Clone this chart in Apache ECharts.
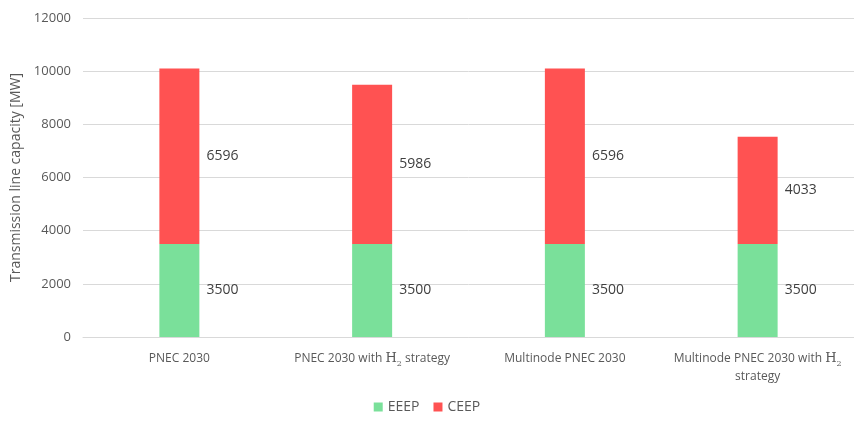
<!DOCTYPE html>
<html>
<head>
<meta charset="utf-8">
<script src="https://cdn.jsdelivr.net/npm/echarts@6/dist/echarts.min.js"></script>
<style>
  html, body { margin: 0; padding: 0; background: #fff; }
  #chart { width: 854px; height: 421px; }
</style>
</head>
<body>
<div id="chart"></div>
<script>
// Scenario names; "{h|H}{s|2}" renders H₂ in a serif face with a subscript
const categories = [
  'PNEC 2030',
  'PNEC 2030 with {h|H}{s|2} strategy',
  'Multinode PNEC 2030',
  'Multinode PNEC 2030 with {h|H}{s|2}\nstrategy'
];
const eeep = [3500, 3500, 3500, 3500];
const ceep = [6596, 5986, 6596, 4033];
const yTicks = [0, 2000, 4000, 6000, 8000, 10000, 12000];

const FONT = '"Liberation Sans Narrow", "Open Sans", sans-serif';
const TEXT = '#595959';

const chart = echarts.init(document.getElementById('chart'), null, { renderer: 'canvas' });

const labelStyle = {
  show: true,
  position: 'right',
  distance: 7,
  color: '#404040',
  fontSize: 14,
  fontFamily: FONT
};

chart.setOption({
  animation: false,
  textStyle: { fontFamily: FONT, color: TEXT },
  grid: { left: 83, right: 0, top: 18, bottom: 84, containLabel: false },
  legend: {
    bottom: 2,
    left: 'center',
    itemWidth: 9,
    itemHeight: 9,
    itemGap: 14,
    icon: 'rect',
    textStyle: { color: TEXT, fontSize: 14, fontFamily: FONT },
    data: ['EEEP', 'CEEP']
  },
  xAxis: {
    type: 'category',
    data: categories,
    axisTick: { show: false },
    axisLine: { lineStyle: { color: '#d9d9d9' } },
    axisLabel: {
      color: TEXT,
      fontSize: 12,
      fontFamily: FONT,
      margin: 13,
      lineHeight: 18,
      interval: 0,
      rich: {
        h: { fontFamily: '"DejaVu Serif", serif', fontSize: 13, color: TEXT },
        s: { fontFamily: '"DejaVu Serif", serif', fontSize: 8, color: TEXT, verticalAlign: 'bottom', padding: [9, 0, 0, 0] }
      }
    }
  },
  yAxis: {
    type: 'value',
    min: yTicks[0],
    max: yTicks[yTicks.length - 1],
    interval: 2000,
    name: 'Transmission line capacity [MW]',
    nameLocation: 'middle',
    nameGap: 55,
    nameTextStyle: { color: TEXT, fontSize: 14, fontFamily: FONT },
    axisLabel: {
      color: TEXT, fontSize: 13, fontFamily: FONT, margin: 12,
      formatter: v => String(v)
    },
    axisLine: { show: false },
    axisTick: { show: false },
    splitLine: { lineStyle: { color: '#d9d9d9' } }
  },
  series: [
    {
      name: 'EEEP',
      type: 'bar',
      stack: 'total',
      barWidth: 40,
      data: eeep,
      itemStyle: { color: '#7ae09a' },
      label: labelStyle
    },
    {
      name: 'CEEP',
      type: 'bar',
      stack: 'total',
      barWidth: 40,
      data: ceep,
      itemStyle: { color: '#ff5252' },
      label: labelStyle
    }
  ]
});
</script>
</body>
</html>
